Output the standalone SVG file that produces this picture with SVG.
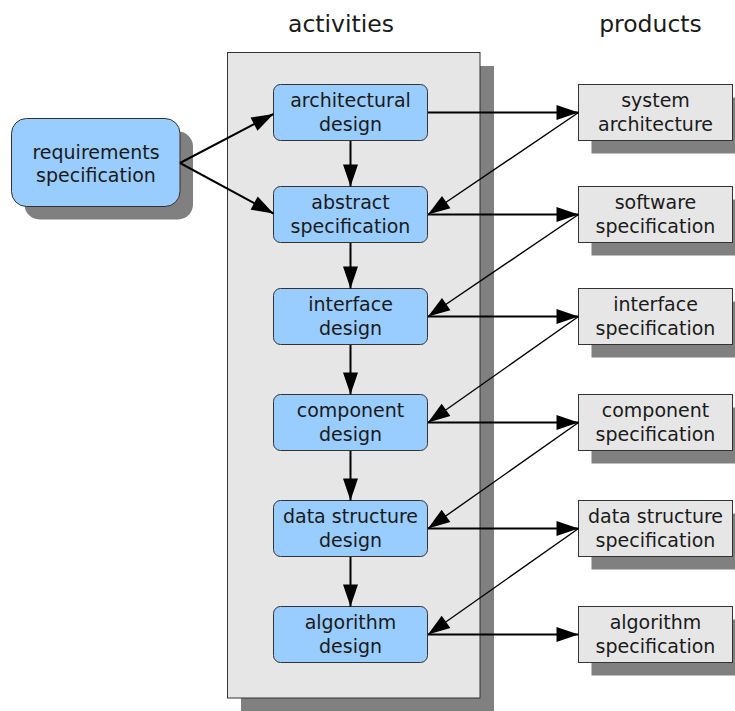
<svg xmlns="http://www.w3.org/2000/svg" width="735" height="711" viewBox="0 0 735 711">
  <style>
    .shadow { fill: #808080; }
    .act { fill: #99ccff; stroke: #333333; stroke-width: 1; }
    .prod { fill: #e6e6e6; stroke: #333333; stroke-width: 1; }
    .lane { fill: #e6e6e6; stroke: #333333; stroke-width: 1; }
    text { font-family: "DejaVu Sans", "Liberation Sans", sans-serif; fill: #1a1a1a; text-anchor: middle; }
    .lbl { font-size: 19px; }
    .hdr { font-size: 23.5px; }
    .edge { stroke: #000000; stroke-width: 2; fill: none; marker-end: url(#head); }
    .thin { stroke-width: 1.4; }
  </style>
  <defs>
    <marker id="head" markerUnits="userSpaceOnUse" markerWidth="23" markerHeight="16" refX="22" refY="7.5" orient="auto" overflow="visible">
      <path d="M0,0 L22,7.5 L0,15 Z" fill="#000000"/>
    </marker>
  </defs>

  <rect width="735" height="711" fill="#ffffff"/>

  <!-- column headers -->
  <text class="hdr" x="341" y="31.5">activities</text>
  <text class="hdr" x="650.5" y="31.5">products</text>

  <!-- activities lane -->
  <g id="lane">
    <rect class="shadow" x="241" y="66" width="253" height="645"/>
    <rect class="lane" x="227.5" y="52.5" width="252.5" height="645.5"/>
  </g>

  <!-- input -->
  <g id="requirements">
    <rect class="shadow" x="24.5" y="131.5" width="168.5" height="88" rx="15"/>
    <rect class="act" x="11.5" y="118.5" width="168.5" height="88" rx="15"/>
    <text class="lbl" x="96" y="158.5">requirements</text>
    <text class="lbl" x="96" y="182">specification</text>
  </g>

  <!-- activity nodes -->
  <g id="architectural-design">
    <rect class="act" x="273.5" y="84.5" width="154" height="56" rx="7"/>
    <text class="lbl" x="350.5" y="106.5">architectural</text>
    <text class="lbl" x="350.5" y="131">design</text>
  </g>
  <g id="abstract-specification">
    <rect class="act" x="273.5" y="186.5" width="154" height="56" rx="7"/>
    <text class="lbl" x="350.5" y="208.5">abstract</text>
    <text class="lbl" x="350.5" y="233">specification</text>
  </g>
  <g id="interface-design">
    <rect class="act" x="273.5" y="288.5" width="154" height="56" rx="7"/>
    <text class="lbl" x="350.5" y="310.5">interface</text>
    <text class="lbl" x="350.5" y="335">design</text>
  </g>
  <g id="component-design">
    <rect class="act" x="273.5" y="394.5" width="154" height="56" rx="7"/>
    <text class="lbl" x="350.5" y="416.5">component</text>
    <text class="lbl" x="350.5" y="441">design</text>
  </g>
  <g id="data-structure-design">
    <rect class="act" x="273.5" y="500.5" width="154" height="56" rx="7"/>
    <text class="lbl" x="350.5" y="522.5">data structure</text>
    <text class="lbl" x="350.5" y="547">design</text>
  </g>
  <g id="algorithm-design">
    <rect class="act" x="273.5" y="606.5" width="154" height="56" rx="7"/>
    <text class="lbl" x="350.5" y="628.5">algorithm</text>
    <text class="lbl" x="350.5" y="653">design</text>
  </g>

  <!-- product nodes -->
  <g id="system-architecture">
    <rect class="shadow" x="591.5" y="97.5" width="154" height="56"/>
    <rect class="prod" x="578.5" y="84.5" width="154" height="56"/>
    <text class="lbl" x="655.5" y="106.5">system</text>
    <text class="lbl" x="655.5" y="131">architecture</text>
  </g>
  <g id="software-specification">
    <rect class="shadow" x="591.5" y="199.5" width="154" height="56"/>
    <rect class="prod" x="578.5" y="186.5" width="154" height="56"/>
    <text class="lbl" x="655.5" y="208.5">software</text>
    <text class="lbl" x="655.5" y="233">specification</text>
  </g>
  <g id="interface-specification">
    <rect class="shadow" x="591.5" y="301.5" width="154" height="56"/>
    <rect class="prod" x="578.5" y="288.5" width="154" height="56"/>
    <text class="lbl" x="655.5" y="310.5">interface</text>
    <text class="lbl" x="655.5" y="335">specification</text>
  </g>
  <g id="component-specification">
    <rect class="shadow" x="591.5" y="407.5" width="154" height="56"/>
    <rect class="prod" x="578.5" y="394.5" width="154" height="56"/>
    <text class="lbl" x="655.5" y="416.5">component</text>
    <text class="lbl" x="655.5" y="441">specification</text>
  </g>
  <g id="data-structure-specification">
    <rect class="shadow" x="591.5" y="513.5" width="154" height="56"/>
    <rect class="prod" x="578.5" y="500.5" width="154" height="56"/>
    <text class="lbl" x="655.5" y="522.5">data structure</text>
    <text class="lbl" x="655.5" y="547">specification</text>
  </g>
  <g id="algorithm-specification">
    <rect class="shadow" x="591.5" y="619.5" width="154" height="56"/>
    <rect class="prod" x="578.5" y="606.5" width="154" height="56"/>
    <text class="lbl" x="655.5" y="628.5">algorithm</text>
    <text class="lbl" x="655.5" y="653">specification</text>
  </g>

  <!-- connectors -->
  <g id="connectors">
    <!-- requirements into the first two activities -->
    <line class="edge" x1="180" y1="163" x2="273.5" y2="114"/>
    <line class="edge" x1="180" y1="163" x2="273.5" y2="213.5"/>

    <!-- activity sequence -->
    <line class="edge" x1="350.5" y1="141" x2="350.5" y2="186.5"/>
    <line class="edge" x1="350.5" y1="243" x2="350.5" y2="288.5"/>
    <line class="edge" x1="350.5" y1="345" x2="350.5" y2="394.5"/>
    <line class="edge" x1="350.5" y1="451" x2="350.5" y2="500.5"/>
    <line class="edge" x1="350.5" y1="557" x2="350.5" y2="606.5"/>

    <!-- activity to product -->
    <line class="edge" x1="428" y1="112.5" x2="578.5" y2="112.5"/>
    <line class="edge" x1="428" y1="214.5" x2="578.5" y2="214.5"/>
    <line class="edge" x1="428" y1="316.5" x2="578.5" y2="316.5"/>
    <line class="edge" x1="428" y1="422.5" x2="578.5" y2="422.5"/>
    <line class="edge" x1="428" y1="528.5" x2="578.5" y2="528.5"/>
    <line class="edge" x1="428" y1="634.5" x2="578.5" y2="634.5"/>

    <!-- product feeding the next activity -->
    <line class="edge thin" x1="578.5" y1="112.5" x2="428" y2="214.5"/>
    <line class="edge thin" x1="578.5" y1="214.5" x2="428" y2="316.5"/>
    <line class="edge thin" x1="578.5" y1="316.5" x2="428" y2="422.5"/>
    <line class="edge thin" x1="578.5" y1="422.5" x2="428" y2="528.5"/>
    <line class="edge thin" x1="578.5" y1="528.5" x2="428" y2="634.5"/>
  </g>
</svg>
